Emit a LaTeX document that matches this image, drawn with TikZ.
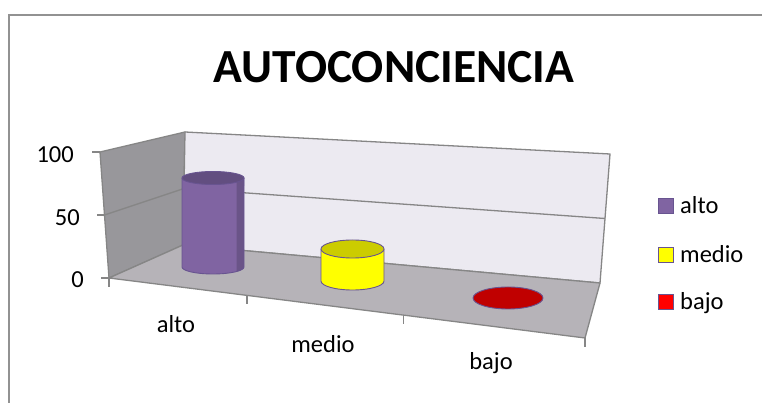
\documentclass[tikz,border=0pt]{standalone}
\usepackage{fontspec}
\setmainfont{Carlito}
\usetikzlibrary{positioning, calc}

\definecolor{sidewall}{RGB}{152,151,155}
\definecolor{backwall}{RGB}{236,234,241}
\definecolor{floorgray}{RGB}{182,179,184}
\definecolor{edgegray}{RGB}{134,134,134}
\definecolor{altopurple}{RGB}{128,100,162}
\definecolor{altoedge}{RGB}{106,84,136}
\definecolor{altotop}{RGB}{98,78,128}
\definecolor{medioyellow}{RGB}{255,255,0}
\definecolor{mediotop}{RGB}{204,204,0}
\definecolor{bajored}{RGB}{192,0,0}
\definecolor{legendred}{RGB}{255,0,0}
\definecolor{rimpurple}{RGB}{104,84,144}

\begin{document}
\begin{tikzpicture}[x=1pt, y=1pt,
    wall/.style={draw=edgegray, line width=1.3pt, line join=round},
    frame/.style={draw=edgegray!90, line width=1.3pt},
    axislabel/.style={font=\fontsize{24.5}{26}\selectfont, inner sep=0pt},
    legendbox/.style={draw=rimpurple, line width=1pt, minimum size=15pt, inner sep=0pt},
    legendtext/.style={font=\fontsize{24.5}{26}\selectfont, inner sep=0pt, text height=19pt, text depth=3pt},
    rim/.style={draw=rimpurple, line width=0.9pt}]
    \useasboundingbox (0,0) rectangle (762,403);

    % Chart frame
    \draw[frame] (9,-20) -- (9,388) -- (790,388);

    % Title
    \node[font=\fontsize{47.5}{50}\selectfont\bfseries] (title) at (394,336) {AUTOCONCIENCIA};

    % Walls and floor
    \coordinate (swtl) at (100,251);
    \coordinate (swbl) at (109,125);
    \coordinate (bwtl) at (185,271);
    \coordinate (bwbl) at (183,158);
    \coordinate (bwtr) at (610,249);
    \coordinate (bwbr) at (600,120);
    \coordinate (flfr) at (585,65);
    \filldraw[wall, fill=sidewall] (swtl) -- (bwtl) -- (bwbl) -- (swbl) -- cycle;
    \filldraw[wall, fill=backwall] (bwtl) -- (bwtr) -- (bwbr) -- (bwbl) -- cycle;
    \filldraw[wall, fill=floorgray] (bwbl) -- (bwbr) -- (flfr) -- (swbl) -- cycle;

    % Gridline at 50
    \draw[wall] ($(swtl)!0.5!(swbl)$) -- ($(bwtl)!0.5!(bwbl)$) -- ($(bwtr)!0.5!(bwbr)$);

    % Y axis ticks and labels
    \foreach \t/\v/\r/\b in {0/100/74/240, 0.5/50/80/177, 1/0/84/115} {
        \draw[wall] ($(swtl)!\t!(swbl)$) -- ++(-8,0);
        \node[axislabel, anchor=base east] (ylab\v) at (\r,\b) {\v};
    }

    % X axis ticks
    \foreach \t in {0, 0.29, 0.618, 1}
        \draw[wall] ($(swbl)!\t!(flfr)$) -- ++(0,-9);

    % X axis labels
    \node[axislabel, anchor=base] (xalto) at (176,70) {alto};
    \node[axislabel, anchor=base] (xmedio) at (323,50) {medio};
    \node[axislabel, anchor=base] (xbajo) at (491,33) {bajo};

    % alto cylinder
    \fill[altopurple] (182,225) -- (182,136) arc[start angle=180, end angle=360, x radius=31, y radius=7]
        -- (244,225) -- cycle;
    \fill[altoedge] (236.7,225) -- (236.7,131.5) arc[start angle=320, end angle=360, x radius=31, y radius=7]
        -- (244,225) -- cycle;
    \draw[rim] (182,225) -- (182,136) arc[start angle=180, end angle=360, x radius=31, y radius=7] -- (244,225);
    \filldraw[rim, fill=altotop] (213,225) ellipse[x radius=31, y radius=6.5];

    % medio cylinder
    \fill[medioyellow] (321,154) -- (321,122) arc[start angle=180, end angle=360, x radius=31.5, y radius=9]
        -- (384,154) -- cycle;
    \draw[rim] (321,154) -- (321,122) arc[start angle=180, end angle=360, x radius=31.5, y radius=9] -- (384,154);
    \filldraw[rim, fill=mediotop] (352.5,154) ellipse[x radius=31.5, y radius=9];

    % bajo cylinder
    \filldraw[rim, fill=bajored] (508,105) ellipse[x radius=35, y radius=11];

    % Legend
    \node[legendbox, fill=altopurple] (sqalto) at (666,197) {};
    \node[legendbox, fill=medioyellow] (sqmedio) at (666,148) {};
    \node[legendbox, fill=legendred] (sqbajo) at (666,101) {};
    \node[legendtext, right=6pt of sqalto] (lalto) {alto};
    \node[legendtext, right=6pt of sqmedio] (lmedio) {medio};
    \node[legendtext, right=6pt of sqbajo] (lbajo) {bajo};
\end{tikzpicture}
\end{document}
